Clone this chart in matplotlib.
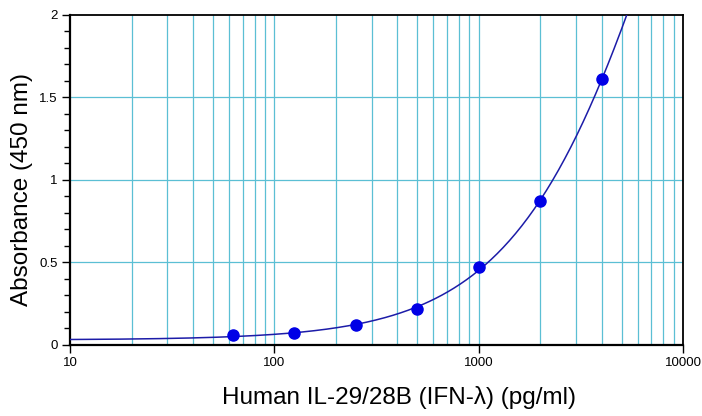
import numpy as np
import matplotlib
matplotlib.use("Agg")
import matplotlib.pyplot as plt
from matplotlib.ticker import FixedLocator, NullFormatter

plt.rcParams['font.family'] = ['Liberation Sans', 'DejaVu Sans']

# standard curve data
conc = np.array([62.5, 125, 250, 500, 1000, 2000, 4000])
absorb = np.array([0.06, 0.07, 0.12, 0.22, 0.47, 0.87, 1.61])

x_ticks = [10, 100, 1000, 10000]
x_tick_labels = ['10', '100', '1000', '10000']
y_ticks = [0, 0.5, 1, 1.5, 2]
y_tick_labels = ['0', '0.5', '1', '1.5', '2']


def four_pl(x, p):
    a, b, logc, d = p
    return d + (a - d) / (1 + (x / np.exp(logc)) ** b)


def fit_4pl(x, y, p0, n_iter=500):
    # small Levenberg-Marquardt with numerical jacobian
    p = np.array(p0, dtype=float)
    lam = 1e-2
    for _ in range(n_iter):
        r = y - four_pl(x, p)
        J = np.zeros((len(x), len(p)))
        for i in range(len(p)):
            dp = np.zeros_like(p)
            dp[i] = 1e-6 * max(1.0, abs(p[i]))
            J[:, i] = (four_pl(x, p + dp) - four_pl(x, p - dp)) / (2 * dp[i])
        A = J.T @ J
        g = J.T @ r
        step = np.linalg.solve(A + lam * np.diag(np.diag(A) + 1e-12), g)
        p_new = p + step
        if np.sum((y - four_pl(x, p_new)) ** 2) < np.sum(r ** 2):
            p = p_new
            lam *= 0.5
        else:
            lam *= 5
    return p


params = fit_4pl(conc, absorb, [0.035, 1.2, np.log(8000), 4.0])
xs = np.logspace(1, 4, 400)
ys = four_pl(xs, params)

fig = plt.figure(figsize=(7.02, 4.16), dpi=100)
ax = fig.add_axes([0.0997, 0.1707, 0.8733, 0.7933])

grid_col = '#5bbfd4'
minor_x = [m * 10 ** e for e in range(1, 4) for m in range(2, 10)]
for xv in minor_x + [100, 1000]:
    ax.axvline(xv, color=grid_col, lw=0.9, zorder=1)
for yv in [0.5, 1, 1.5]:
    ax.axhline(yv, color=grid_col, lw=0.9, zorder=1)

ax.plot(xs, ys, color='#1c1ca8', lw=1.1, zorder=3)
ax.plot(conc, absorb, 'o', color='#0000e6', ms=8, zorder=4)

ax.set_xscale('log')
ax.set_xlim(10, 10000)
ax.set_ylim(0, 2)
ax.set_xticks(x_ticks)
ax.set_xticklabels(x_tick_labels)
ax.xaxis.set_minor_locator(FixedLocator([]))
ax.xaxis.set_minor_formatter(NullFormatter())
ax.set_yticks(y_ticks)
ax.set_yticklabels(y_tick_labels)
ax.yaxis.set_minor_locator(FixedLocator(np.arange(0, 2.01, 0.1)))
ax.tick_params(axis='both', which='major', labelsize=9.5, length=6, width=1,
               direction='out', pad=3)
ax.tick_params(axis='y', which='minor', length=4, width=1, direction='out')

for s in ax.spines.values():
    s.set_color('black')
    s.set_linewidth(1.3)
ax.spines['bottom'].set_linewidth(1.6)
ax.spines['left'].set_linewidth(1.6)

ax.set_xlabel('Human IL-29/28B (IFN-λ) (pg/ml)', fontsize=17.5, va='center')
ax.xaxis.set_label_coords(0.537, -0.16)
ax.set_ylabel('Absorbance (450 nm)', fontsize=17.5, va='center')
ax.yaxis.set_label_coords(-0.079, 0.47)

fig.savefig('out.png', dpi=100)
